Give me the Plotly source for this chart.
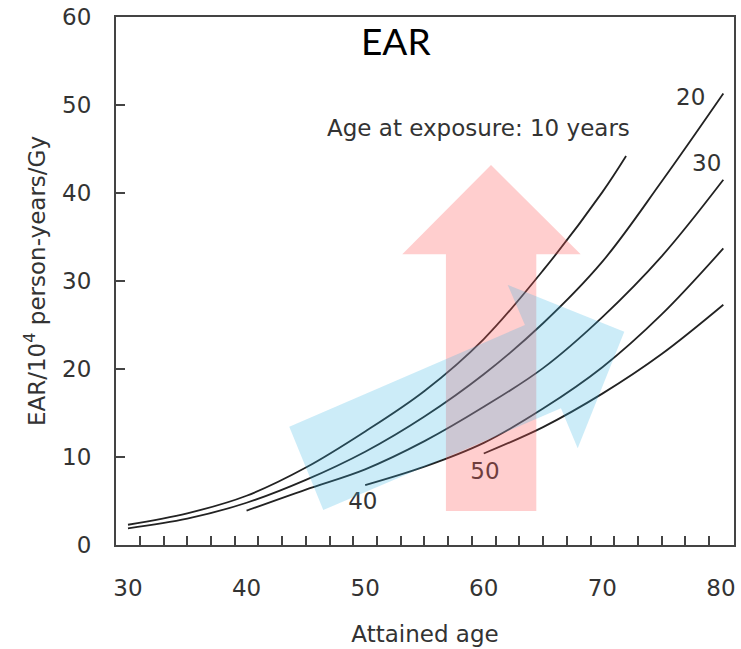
import plotly.graph_objects as go

# ---- data ----
age_10_x = [30, 35, 40, 45, 50, 55, 60, 65, 70, 72]
age_10_y = [2.3, 3.6, 5.6, 8.8, 12.9, 17.5, 23.4, 31.2, 40.1, 44.2]

age_20_x = [30, 35, 40, 45, 50, 55, 60, 65, 70, 75, 80.2]
age_20_y = [1.9, 3.0, 4.8, 7.4, 10.6, 14.6, 19.4, 25.2, 32.2, 41.3, 51.3]

age_30_x = [40, 45, 50, 55, 60, 65, 70, 75, 80.2]
age_30_y = [3.9, 6.3, 8.6, 11.8, 15.7, 20.1, 25.9, 32.8, 41.5]

age_40_x = [50, 55, 60, 65, 70, 75, 80.2]
age_40_y = [6.8, 8.9, 11.6, 15.5, 20.2, 26.2, 33.7]

age_50_x = [60, 65, 70, 75, 80.2]
age_50_y = [10.4, 13.4, 17.2, 21.7, 27.3]

series = [(age_10_x, age_10_y), (age_20_x, age_20_y), (age_30_x, age_30_y),
          (age_40_x, age_40_y), (age_50_x, age_50_y)]

x_ticks = [30, 40, 50, 60, 70, 80]
x_minor_ticks = list(range(31, 81, 2))
y_ticks = [0, 10, 20, 30, 40, 50, 60]

curve_labels = ["20", "30", "40", "50"]
curve_label_x = [77.45, 78.8, 49.8, 60.1]
curve_label_y = [50.7, 43.1, 4.7, 8.2]

FONT = "DejaVu Sans"
TXT = "#333333"
AX = "#444444"

fig = go.Figure()
for xs, ys in series:
    fig.add_trace(go.Scatter(x=xs, y=ys, mode="lines",
                             line=dict(color="#222222", width=1.8, shape="spline", smoothing=1),
                             showlegend=False, hoverinfo="skip"))

fig.add_trace(go.Scatter(x=curve_label_x, y=curve_label_y, text=curve_labels, mode="text",
                         textfont=dict(family=FONT, size=23, color=TXT),
                         textposition="middle center", showlegend=False, hoverinfo="skip"))

# decorative arrows (data coordinates)
pink_path = ("M 56.81 3.86 L 56.81 33.03 L 53.13 33.03 L 60.61 43.18 "
             "L 68.17 33.03 L 64.43 33.03 L 64.43 3.86 Z")
blue_path = ("M 46.47 3.98 L 43.60 13.44 L 63.47 25.0 L 62.02 29.55 "
             "L 71.85 24.24 L 67.92 10.99 L 66.51 15.53 Z")
fig.add_shape(type="path", path=pink_path, xref="x", yref="y", layer="above",
              fillcolor="rgba(255,85,85,0.29)", line=dict(width=0))
fig.add_shape(type="path", path=blue_path, xref="x", yref="y", layer="above",
              fillcolor="rgba(51,179,227,0.25)", line=dict(width=0))

fig.add_annotation(x=59.54, y=47.4, text="Age at exposure: 10 years", showarrow=False,
                   font=dict(family=FONT, size=23, color=TXT), xanchor="center", yanchor="middle")
fig.add_annotation(x=52.6, y=57.3, text="EAR", showarrow=False,
                   font=dict(family="Lato", size=37, color="#000000"), xanchor="center", yanchor="middle")

fig.update_layout(
    width=741, height=649,
    margin=dict(l=116, r=7, t=17, b=104),
    paper_bgcolor="white", plot_bgcolor="white",
    font=dict(family=FONT, size=23, color=TXT),
)
fig.update_xaxes(
    range=[28.99, 81.1], showgrid=False, zeroline=False, automargin=False,
    showline=True, linecolor=AX, linewidth=2, mirror=True,
    tickmode="array", tickvals=x_ticks, ticktext=[str(v) for v in x_ticks],
    ticks="", ticklabelstandoff=21,
    tickfont=dict(family=FONT, size=23, color=TXT),
    minor=dict(tickmode="array", tickvals=x_minor_ticks, ticks="inside", ticklen=9,
               tickwidth=1.5, tickcolor=AX, showgrid=False),
    title=dict(text="Attained age", font=dict(family=FONT, size=23, color=TXT), standoff=26),
)
fig.update_yaxes(
    range=[0, 60], showgrid=False, zeroline=False, automargin=False,
    showline=True, linecolor=AX, linewidth=2, mirror=True,
    tickmode="array", tickvals=y_ticks, ticktext=[str(v) for v in y_ticks],
    ticks="inside", ticklen=9, tickwidth=1.5, tickcolor=AX, ticklabelstandoff=18,
    tickfont=dict(family=FONT, size=23, color=TXT),
    title=dict(text="EAR/10<sup>4</sup> person-years/Gy",
               font=dict(family=FONT, size=23, color=TXT), standoff=10),
)

fig.write_html("out.html", config={"displayModeBar": False},
               post_script="document.body.style.margin='0';document.body.style.padding='0';document.body.style.overflow='hidden';")
